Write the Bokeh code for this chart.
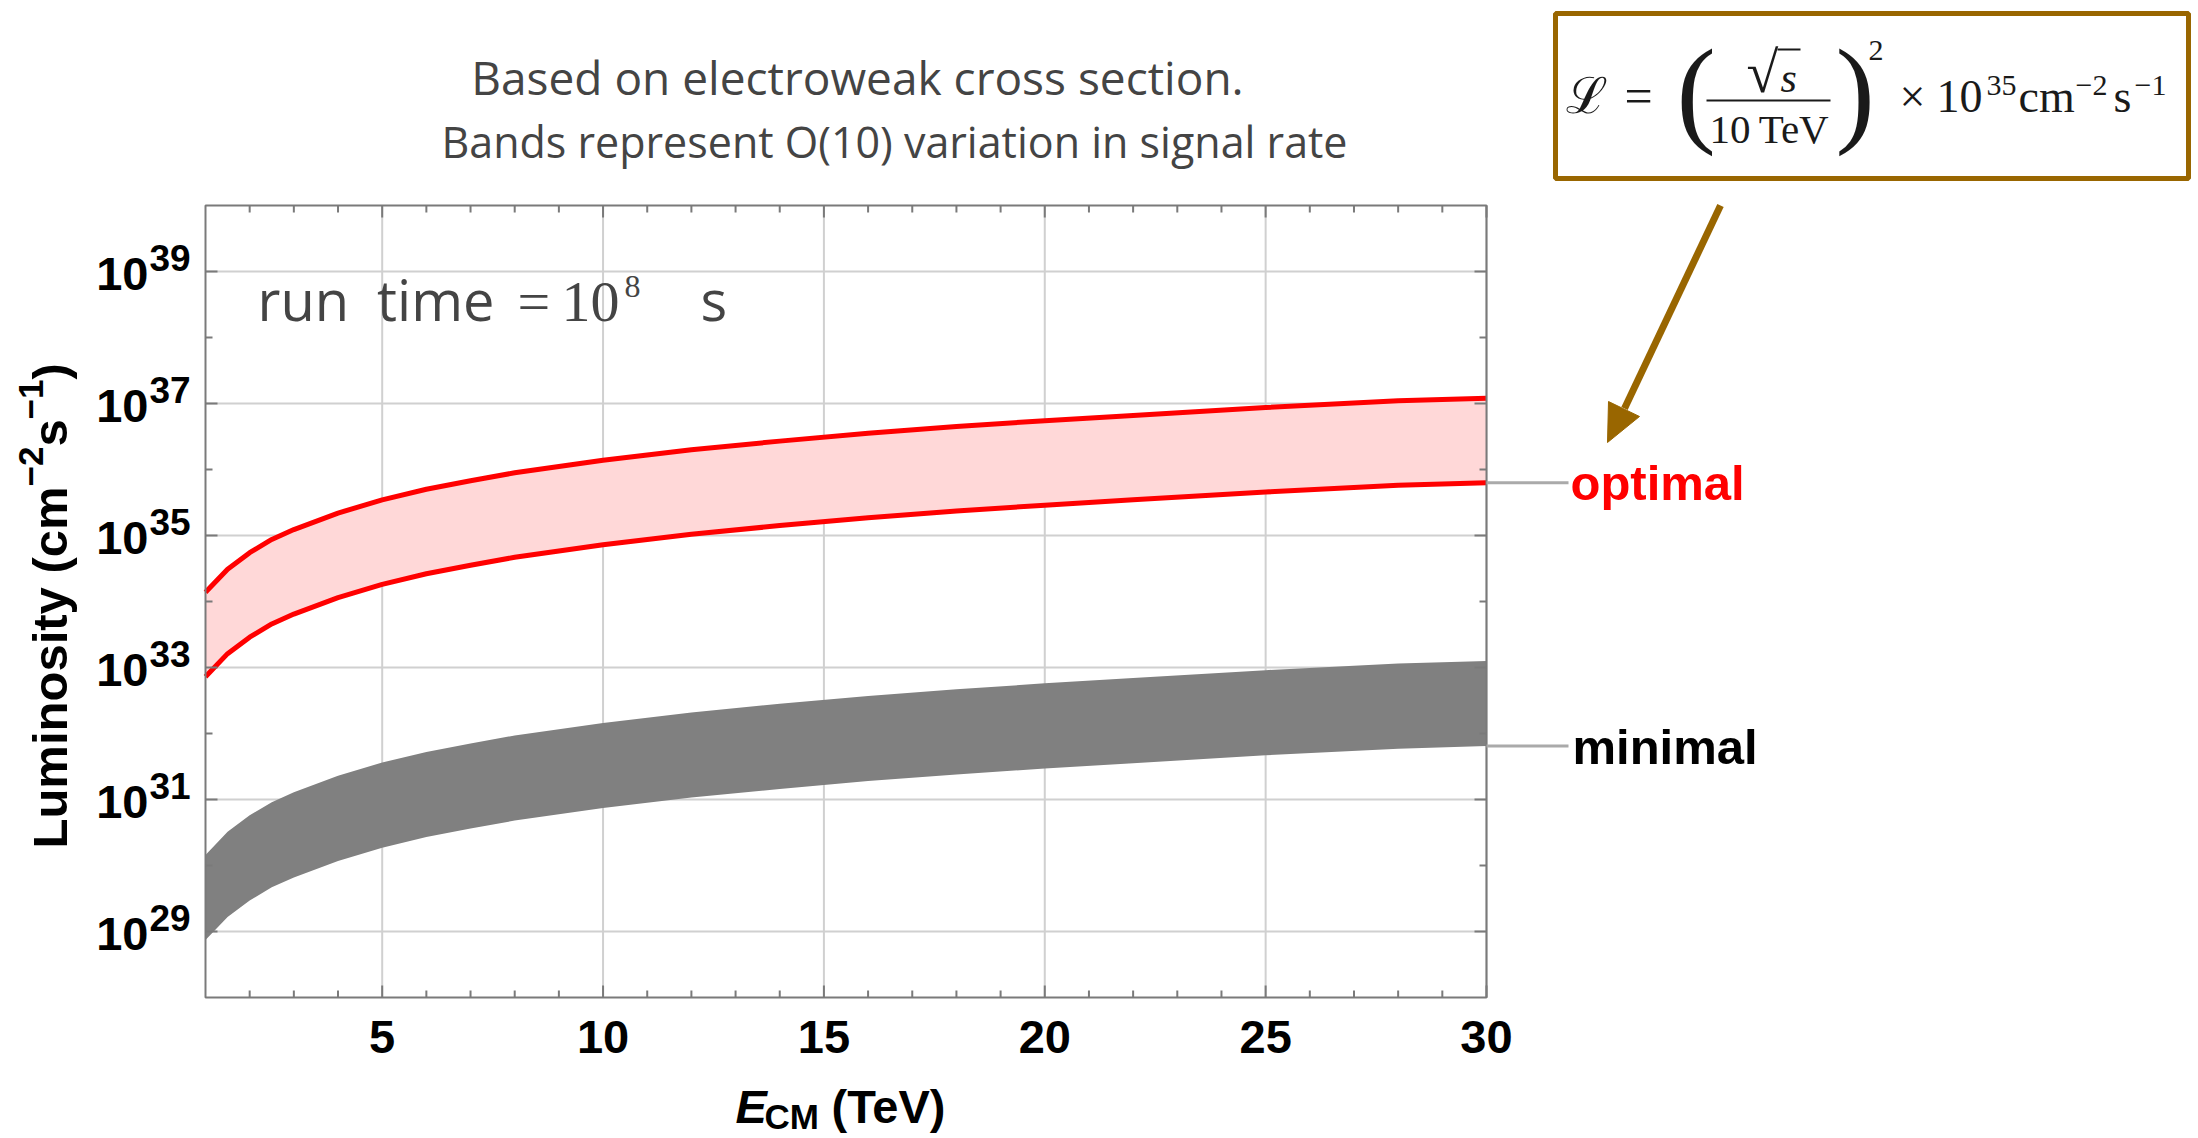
import math
from bokeh.plotting import figure
from bokeh.models import Range1d, Label
from bokeh.embed import file_html
from bokeh.resources import INLINE

# ---------------- data ----------------
E_TeV = [1, 1.5, 2, 2.5, 3, 4, 5, 6, 7, 8, 10, 12, 14, 16, 18, 20, 22, 25, 28, 30]
# log10 of luminosity (cm^-2 s^-1)
optimal_hi_exp = [34.14, 34.49, 34.74, 34.94, 35.09, 35.34, 35.54, 35.70, 35.83, 35.95,
                  36.14, 36.30, 36.43, 36.55, 36.65, 36.74, 36.82, 36.94, 37.04, 37.08]
optimal_lo_exp = [32.86, 33.21, 33.46, 33.66, 33.81, 34.06, 34.26, 34.42, 34.55, 34.67,
                  34.86, 35.02, 35.15, 35.27, 35.37, 35.46, 35.54, 35.66, 35.76, 35.80]
minimal_hi_exp = [30.16, 30.51, 30.76, 30.96, 31.11, 31.36, 31.56, 31.72, 31.85, 31.97,
                  32.16, 32.32, 32.45, 32.57, 32.67, 32.76, 32.84, 32.96, 33.06, 33.10]
minimal_lo_exp = [28.87, 29.22, 29.47, 29.67, 29.82, 30.07, 30.27, 30.43, 30.56, 30.68,
                  30.87, 31.03, 31.16, 31.28, 31.38, 31.47, 31.55, 31.67, 31.77, 31.81]
x_major_ticks = [5, 10, 15, 20, 25, 30]
x_minor_ticks = [t for t in range(2, 30) if t % 5 != 0]
y_major_exp = [29, 31, 33, 35, 37, 39]
y_minor_exp = [30, 32, 34, 36, 38]
band_labels = ["optimal", "minimal"]

# ---------------- geometry (reference pixels) ----------------
X_MIN, X_MAX = 1, 30
Y_MIN_EXP, Y_MAX_EXP = 28, 40
FL, FT, FW, FH = 205, 205, 1281, 792      # plot frame in reference pixels
FR, FB = FL + FW, FT + FH
OFF = 0
W, H = 2198, 1138


def X(px):
    return X_MIN + (px - FL) * (X_MAX - X_MIN) / FW


def Y(py):
    return 10 ** (Y_MAX_EXP - (py - FT) * (Y_MAX_EXP - Y_MIN_EXP) / FH)


YLO, YHI = 10.0 ** Y_MIN_EXP, 10.0 ** Y_MAX_EXP

p = figure(width=W, height=H, x_range=Range1d(X(OFF), X(OFF + W)),
           y_range=Range1d(Y(OFF + H), Y(OFF)), y_axis_type="log",
           x_axis_location=None, y_axis_location=None,
           min_border=0, min_border_left=0, min_border_right=0,
           min_border_top=0, min_border_bottom=0,
           output_backend="svg", toolbar_location=None)
p.grid.visible = False
p.outline_line_color = None
p.background_fill_color = "white"
p.border_fill_color = "white"

FRAME_C = "#7a7a7a"
GRID_C = "#d0d0d0"

# ---------------- grid lines ----------------
ymaj = [10.0 ** e for e in y_major_exp]
ymin = [10.0 ** e for e in y_minor_exp]
p.segment(x0=x_major_ticks, y0=[YLO] * len(x_major_ticks),
          x1=x_major_ticks, y1=[YHI] * len(x_major_ticks),
          line_color=GRID_C, line_width=2)
p.segment(x0=[X_MIN] * len(ymaj), y0=ymaj, x1=[X_MAX] * len(ymaj), y1=ymaj,
          line_color=GRID_C, line_width=2)

# ---------------- bands ----------------
opt_hi = [10 ** v for v in optimal_hi_exp]
opt_lo = [10 ** v for v in optimal_lo_exp]
min_hi = [10 ** v for v in minimal_hi_exp]
min_lo = [10 ** v for v in minimal_lo_exp]

p.varea(x=E_TeV, y1=min_lo, y2=min_hi, fill_color="#808080")
p.varea(x=E_TeV, y1=opt_lo, y2=opt_hi, fill_color="#ffd8d8")
p.line(E_TeV, opt_hi, line_color="#ff0000", line_width=5)
p.line(E_TeV, opt_lo, line_color="#ff0000", line_width=5)

# ---------------- frame and ticks ----------------
p.quad(left=[X_MIN], right=[X_MAX], bottom=[YLO], top=[YHI],
       fill_color=None, line_color=FRAME_C, line_width=2)


def xticks(vals, length):
    n = len(vals)
    p.segment(x0=vals, y0=[YLO] * n, x1=vals, y1=[Y(FB - length)] * n,
              line_color=FRAME_C, line_width=2)
    p.segment(x0=vals, y0=[YHI] * n, x1=vals, y1=[Y(FT + length)] * n,
              line_color=FRAME_C, line_width=2)


def yticks(vals, length):
    n = len(vals)
    p.segment(x0=[X_MIN] * n, y0=vals, x1=[X(FL + length)] * n, y1=vals,
              line_color=FRAME_C, line_width=2)
    p.segment(x0=[X_MAX] * n, y0=vals, x1=[X(FR - length)] * n, y1=vals,
              line_color=FRAME_C, line_width=2)


xticks(x_major_ticks, 12)
xticks(x_minor_ticks, 7)
yticks(ymaj, 12)
yticks(ymin, 7)

# the rendered text sits about this fraction of the font size below its anchor
SHIFT = {"Liberation Sans": 0.35, "Liberation Serif": 0.34, "Open Sans": 0.40}


def lab(text, xr, yr, size, font="Liberation Sans", style="normal", color="black",
        align="left", angle=0.0):
    s = SHIFT.get(font, 0.35) * size
    if angle:
        xr = xr - s
    else:
        yr = yr - s
    p.add_layout(Label(x=X(xr), y=Y(yr), text=text, text_font=font,
                       text_font_size=f"{size}px", text_font_style=style,
                       text_color=color, text_align=align,
                       text_baseline="alphabetic", angle=angle))


# ---------------- tick labels ----------------
for e in y_major_exp:
    p.add_layout(Label(x=X(148), y=10.0 ** e, y_offset=-19 + 0.35 * 47, text="10",
                       text_font="Liberation Sans", text_font_style="bold",
                       text_font_size="47px", text_align="right",
                       text_baseline="alphabetic", text_color="black"))
    p.add_layout(Label(x=X(149), y=10.0 ** e, y_offset=1 + 0.35 * 37, text=str(e),
                       text_font="Liberation Sans", text_font_style="bold",
                       text_font_size="37px", text_align="left",
                       text_baseline="alphabetic", text_color="black"))
for t in x_major_ticks:
    p.add_layout(Label(x=t, y=Y(1053 - 0.35 * 47), text=str(t),
                       text_font="Liberation Sans", text_font_style="bold",
                       text_font_size="47px", text_align="center",
                       text_baseline="alphabetic", text_color="black"))

# ---------------- axis titles ----------------
lab("E", 735, 1122, 47, style="bold italic")
lab("CM", 764, 1128, 35, style="bold")
lab("(TeV)", 831, 1122, 47, style="bold")

ROT = math.pi / 2
lab("Luminosity (cm", 67, 848, 49, style="bold", angle=ROT)
lab("\u22122", 43, 486, 35, style="bold", angle=ROT)
lab("s", 67, 446, 49, style="bold", angle=ROT)
lab("\u22121", 43, 419, 35, style="bold", angle=ROT)
lab(")", 67, 379, 49, style="bold", angle=ROT)

# ---------------- header text ----------------
GREY_T = "#444444"
lab("Based on electroweak cross section.", 857, 95, 46, font="Open Sans",
    color=GREY_T, align="center")
lab("Bands represent O(10) variation in signal rate", 894, 158, 43, font="Open Sans",
    color=GREY_T, align="center")

lab("run\u2002time", 257, 321, 56, font="Open Sans", color=GREY_T)
lab("=", 517, 321, 58, font="Liberation Serif", color=GREY_T)
lab("10", 561, 321, 58, font="Liberation Serif", color=GREY_T)
lab("8", 624, 297, 32, font="Liberation Serif", color=GREY_T)
lab("s", 700, 321, 56, font="Open Sans", color=GREY_T)

# ---------------- band labels with leader lines ----------------
p.segment(x0=[X_MAX, X_MAX], y0=[opt_lo[-1], min_lo[-1]],
          x1=[X(1568), X(1568)], y1=[opt_lo[-1], min_lo[-1]],
          line_color="#aaaaaa", line_width=3)
lab(band_labels[0], 1570, 500, 49, style="bold", color="#ff0000")
lab(band_labels[1], 1572, 764, 49, style="bold", color="black")

# ---------------- formula box ----------------
BROWN = "#996600"
p.quad(left=[X(1555)], right=[X(2188)], top=[Y(13)], bottom=[Y(178)],
       fill_color=None, line_color=BROWN, line_width=5)
F = "Liberation Serif"
FC = "#1a1a1a"
lab("\u2112", 1565, 112, 50, font=F, color=FC)
lab("=", 1624, 112, 50, font=F, color=FC)
lab("(", 1676, 131, 118, font=F, color=FC)
lab("\u221a", 1746, 92, 58, font=F, color=FC)
lab("s", 1780, 92, 42, font=F, style="italic", color=FC)
p.segment(x0=[X(1777), X(1706)], y0=[Y(49), Y(100)], x1=[X(1800), X(1830)],
          y1=[Y(49), Y(100)], line_color=FC, line_width=2)
lab("10\u2009TeV", 1709, 142, 41, font=F, color=FC)
lab(")", 1835, 131, 118, font=F, color=FC)
lab("2", 1868, 60, 30, font=F, color=FC)
lab("\u00d7", 1899, 112, 46, font=F, color=FC)
lab("10", 1936, 112, 46, font=F, color=FC)
lab("35", 1986, 95, 30, font=F, color=FC)
lab("cm", 2018, 112, 46, font=F, color=FC)
lab("\u22122", 2075, 95, 30, font=F, color=FC)
lab("s", 2113, 112, 46, font=F, color=FC)
lab("\u22121", 2134, 95, 30, font=F, color=FC)

# arrow from the box to the optimal band
p.segment(x0=[X(1720)], y0=[Y(205)], x1=[X(1624)], y1=[Y(408)],
          line_color=BROWN, line_width=7)
p.patch(x=[X(1608), X(1639), X(1607)], y=[Y(401), Y(416), Y(442)],
        fill_color=BROWN, line_color=BROWN, line_width=1)

open("out.html", "w").write(file_html(p, INLINE))
